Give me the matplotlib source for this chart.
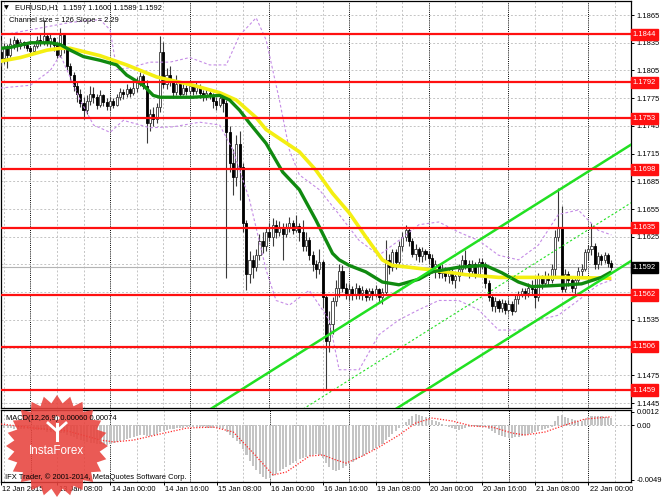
import numpy as np
import matplotlib.pyplot as plt
from matplotlib.patches import Polygon, Circle

plt.rcParams['font.family'] = ['Liberation Sans', 'DejaVu Sans']

W, H = 664, 498

# ---- EURUSD H1 candles (bar 0 = 12 Jan 2015 15:00) ----
first_open = 1.1825
close = [1.1818, 1.1830, 1.1822, 1.1834, 1.1838, 1.1831, 1.1836, 1.1833, 1.1829, 1.1826,
         1.1831, 1.1838, 1.1835, 1.1842, 1.1836, 1.1840, 1.1833, 1.1822, 1.1843, 1.1828,
         1.1810, 1.1800, 1.1788, 1.1780, 1.1770, 1.1762, 1.1772, 1.1780, 1.1776, 1.1768,
         1.1778, 1.1771, 1.1766, 1.1772, 1.1768, 1.1776, 1.1782, 1.1779, 1.1785, 1.1781,
         1.1786, 1.1793, 1.1799, 1.1788, 1.1748, 1.1758, 1.1752, 1.1765, 1.1825, 1.1790,
         1.1800, 1.1792, 1.1782, 1.1790, 1.1780, 1.1786, 1.1783, 1.1788, 1.1783, 1.1787,
         1.1781, 1.1776, 1.1781, 1.1778, 1.1772, 1.1768, 1.1775, 1.1770, 1.1738, 1.1705,
         1.1690, 1.1725, 1.1700, 1.1640, 1.1585, 1.1600, 1.1592, 1.1605, 1.1620, 1.1615,
         1.1630, 1.1625, 1.1638, 1.1630, 1.1636, 1.1628, 1.1634, 1.1640, 1.1632, 1.1637,
         1.1630, 1.1615, 1.1622, 1.1605, 1.1595, 1.1590, 1.1598, 1.1560, 1.1512, 1.1530,
         1.1555, 1.1570, 1.1588, 1.1570, 1.1563, 1.1568, 1.1562, 1.1570, 1.1564, 1.1567,
         1.1560, 1.1566, 1.1563, 1.1568, 1.1560, 1.1565, 1.1600, 1.1592, 1.1608, 1.1598,
         1.1615, 1.1625, 1.1632, 1.1620, 1.1606, 1.1612, 1.1604, 1.1610, 1.1606, 1.1602,
         1.1592, 1.1595, 1.1586, 1.1590, 1.1582, 1.1586, 1.1578, 1.1582, 1.1590, 1.1600,
         1.1596, 1.1588, 1.1595, 1.1585, 1.1598, 1.1595, 1.1575, 1.1560, 1.1550, 1.1555,
         1.1548, 1.1553, 1.1546, 1.1552, 1.1545, 1.1558, 1.1562, 1.1566, 1.1564, 1.1570,
         1.1568, 1.1560, 1.1580, 1.1575, 1.1582, 1.1578, 1.1590, 1.1625, 1.1635, 1.1568,
         1.1585, 1.1578, 1.1570, 1.1578, 1.1588, 1.1590, 1.1608, 1.1612, 1.1615, 1.1595,
         1.1604, 1.1600, 1.1605, 1.1597, 1.1592]
high = [1.1838, 1.1835, 1.1834, 1.1840, 1.1842, 1.1840, 1.1839, 1.1837, 1.1836, 1.1832,
        1.1834, 1.1842, 1.1845, 1.1860, 1.1845, 1.1844, 1.1841, 1.1836, 1.1851, 1.1846,
        1.1830, 1.1813, 1.1803, 1.1792, 1.1785, 1.1776, 1.1778, 1.1788, 1.1787, 1.1780,
        1.1784, 1.1780, 1.1775, 1.1776, 1.1775, 1.1780, 1.1786, 1.1785, 1.1790, 1.1787,
        1.1792, 1.1798, 1.1803, 1.1801, 1.1795, 1.1763, 1.1765, 1.1770, 1.1842, 1.1836,
        1.1808, 1.1810, 1.1795, 1.1800, 1.1793, 1.1791, 1.1789, 1.1793, 1.1790, 1.1792,
        1.1790, 1.1784, 1.1785, 1.1785, 1.1781, 1.1776, 1.1779, 1.1778, 1.1773, 1.1745,
        1.1720, 1.1735, 1.1740, 1.1705, 1.1643, 1.1610, 1.1605, 1.1612, 1.1628, 1.1630,
        1.1636, 1.1640, 1.1645, 1.1643, 1.1642, 1.1640, 1.1640, 1.1646, 1.1643, 1.1649,
        1.1640, 1.1643, 1.1630, 1.1625, 1.1610, 1.1600, 1.1612, 1.1600, 1.1562, 1.1545,
        1.1560, 1.1578, 1.1595, 1.1594, 1.1575, 1.1574, 1.1572, 1.1575, 1.1573, 1.1572,
        1.1570, 1.1570, 1.1569, 1.1573, 1.1570, 1.1570, 1.1622, 1.1606, 1.1612, 1.1612,
        1.1620, 1.1630, 1.1638, 1.1636, 1.1624, 1.1617, 1.1614, 1.1614, 1.1612, 1.1610,
        1.1606, 1.1600, 1.1596, 1.1595, 1.1592, 1.1590, 1.1590, 1.1585, 1.1596, 1.1605,
        1.1611, 1.1600, 1.1600, 1.1598, 1.1602, 1.1602, 1.1598, 1.1578, 1.1562, 1.1560,
        1.1558, 1.1558, 1.1556, 1.1556, 1.1555, 1.1562, 1.1566, 1.1570, 1.1569, 1.1575,
        1.1578, 1.1580, 1.1586, 1.1584, 1.1588, 1.1586, 1.1596, 1.1632, 1.1678, 1.1658,
        1.1590, 1.1588, 1.1582, 1.1583, 1.1592, 1.1595, 1.1612, 1.1616, 1.1640, 1.1618,
        1.1608, 1.1606, 1.1609, 1.1607, 1.1600]
low = [1.1810, 1.1812, 1.1808, 1.1820, 1.1828, 1.1826, 1.1828, 1.1829, 1.1826, 1.1822,
       1.1824, 1.1829, 1.1831, 1.1833, 1.1832, 1.1830, 1.1826, 1.1818, 1.1820, 1.1824,
       1.1806, 1.1795, 1.1783, 1.1771, 1.1765, 1.1752, 1.1758, 1.1768, 1.1770, 1.1763,
       1.1765, 1.1766, 1.1762, 1.1762, 1.1764, 1.1766, 1.1773, 1.1774, 1.1776, 1.1776,
       1.1778, 1.1782, 1.1788, 1.1785, 1.1727, 1.1740, 1.1745, 1.1748, 1.1760, 1.1786,
       1.1785, 1.1788, 1.1775, 1.1778, 1.1776, 1.1778, 1.1778, 1.1780, 1.1778, 1.1780,
       1.1775, 1.1772, 1.1773, 1.1774, 1.1764, 1.1762, 1.1765, 1.1760, 1.1580, 1.1695,
       1.1670, 1.1680, 1.1665, 1.1630, 1.1567, 1.1575, 1.1580, 1.1588, 1.1600, 1.1607,
       1.1610, 1.1620, 1.1615, 1.1624, 1.1626, 1.1600, 1.1625, 1.1630, 1.1628, 1.1630,
       1.1620, 1.1610, 1.1610, 1.1600, 1.1588, 1.1580, 1.1585, 1.1548, 1.1459, 1.1500,
       1.1520, 1.1550, 1.1560, 1.1565, 1.1558, 1.1556, 1.1556, 1.1558, 1.1558, 1.1557,
       1.1555, 1.1556, 1.1557, 1.1560, 1.1554, 1.1552, 1.1563, 1.1585, 1.1588, 1.1590,
       1.1595, 1.1610, 1.1620, 1.1615, 1.1603, 1.1600, 1.1598, 1.1598, 1.1600, 1.1595,
       1.1586, 1.1580, 1.1580, 1.1580, 1.1577, 1.1575, 1.1574, 1.1570, 1.1577, 1.1585,
       1.1590, 1.1580, 1.1583, 1.1580, 1.1584, 1.1590, 1.1570, 1.1555, 1.1545, 1.1544,
       1.1543, 1.1544, 1.1541, 1.1544, 1.1540, 1.1544, 1.1552, 1.1560, 1.1558, 1.1560,
       1.1562, 1.1548, 1.1555, 1.1568, 1.1572, 1.1572, 1.1575, 1.1580, 1.1620, 1.1565,
       1.1565, 1.1572, 1.1565, 1.1562, 1.1575, 1.1583, 1.1588, 1.1600, 1.1605, 1.1590,
       1.1590, 1.1594, 1.1597, 1.1592, 1.1589]

# ---- moving averages (bar, price) ----
ma_slow_bars = [0, 6, 14, 18, 21, 30, 38, 47, 58, 66, 71, 77, 80, 90, 95, 100, 105, 110,
                115, 118, 123, 130, 140, 150, 170, 184]
ma_slow = [1.1815, 1.1819, 1.1827, 1.1829, 1.1829, 1.1821, 1.1811, 1.1798, 1.1789, 1.1781,
           1.1773, 1.1754, 1.1741, 1.1717, 1.1697, 1.1672, 1.1651, 1.1625, 1.1600, 1.1594,
           1.1592, 1.1589, 1.1584, 1.1581, 1.1581, 1.1580]
ma_fast_bars = [0, 3, 9, 15, 18, 21, 25, 30, 35, 38, 43, 46, 48, 58, 66, 69, 72, 75, 80,
                85, 90, 95, 100, 102, 105, 110, 115, 120, 126, 130, 138, 146, 151, 156,
                160, 166, 171, 175, 181, 184]
ma_fast = [1.1829, 1.1830, 1.1835, 1.1835, 1.1833, 1.1827, 1.1820, 1.1816, 1.1811, 1.1800,
           1.1789, 1.1778, 1.1776, 1.1776, 1.1778, 1.1773, 1.1762, 1.1748, 1.1726, 1.1695,
           1.1676, 1.1643, 1.1607, 1.1600, 1.1594, 1.1587, 1.1576, 1.1573, 1.1579, 1.1587,
           1.1592, 1.1594, 1.1586, 1.1576, 1.1571, 1.1572, 1.1573, 1.1574, 1.1581, 1.1587]

# ---- bollinger-style envelope (dashed violet) ----
band_up_bars = [0, 12, 21, 30, 33, 35, 39, 45, 51, 57, 63, 68, 72, 77, 80, 84, 87, 90, 96,
                102, 108, 114, 120, 126, 132, 138, 144, 150, 156, 162, 168, 174, 180, 184]
band_up = [1.1843, 1.1851, 1.1857, 1.1860, 1.1849, 1.1806, 1.1808, 1.1814, 1.1814, 1.1819,
           1.1811, 1.1811, 1.1843, 1.1862, 1.1838, 1.1773, 1.1719, 1.1692, 1.1676, 1.1649,
           1.1621, 1.1605, 1.1621, 1.1638, 1.1641, 1.1630, 1.1621, 1.1605, 1.1600, 1.1616,
           1.1649, 1.1654, 1.1632, 1.1627]
band_lo_bars = [0, 9, 15, 18, 24, 28, 33, 37, 45, 52, 60, 66, 70, 75, 80, 83, 87, 93, 99,
                102, 108, 114, 120, 126, 132, 138, 144, 150, 156, 162, 168, 174, 180, 184]
band_lo = [1.1786, 1.1789, 1.1805, 1.1822, 1.1773, 1.1746, 1.1738, 1.1751, 1.1743, 1.1744,
           1.1749, 1.1746, 1.1719, 1.1665, 1.1589, 1.1556, 1.1551, 1.1567, 1.1535, 1.1481,
           1.1481, 1.1519, 1.1535, 1.1546, 1.1556, 1.1556, 1.1546, 1.1524, 1.1524, 1.1535,
           1.1540, 1.1556, 1.1573, 1.1578]

# ---- regression channel ----
channel_size = 0.0126
channel_slope = 0.000226
channel_ref_bar = 189.6
channel_ref_low = 1.1598

# ---- support / resistance levels ----
levels = [1.1844, 1.1792, 1.1753, 1.1698, 1.1635, 1.1562, 1.1506, 1.1459]
last_price = 1.1592
price_ticks = [1.1445, 1.1475, 1.1505, 1.1535, 1.1565, 1.1595, 1.1625, 1.1655, 1.1685,
               1.1715, 1.1745, 1.1775, 1.1805, 1.1835, 1.1865]
hidden_ticks = [1.1505, 1.1565, 1.1595]  # covered by level / price boxes

# ---- MACD(12,26,9) ----
macd_hist = [-0.00027, -0.00027, -0.00027, -0.00027, -0.00036, -0.00036, -0.00036, -0.00036,
             -0.00036, -0.00045, -0.00045, -0.00045, -0.00045, -0.00045, -0.00062, -0.00062,
             -0.00062, -0.00071, -0.00071, -0.00071, -0.00089, -0.00098, -0.00107, -0.00125,
             -0.00134, -0.00143, -0.00151, -0.00160, -0.00160, -0.00169, -0.00169, -0.00178,
             -0.00178, -0.00169, -0.00160, -0.00151, -0.00143, -0.00134, -0.00125, -0.00116,
             -0.00107, -0.00098, -0.00089, -0.00089, -0.00098, -0.00098, -0.00089, -0.00080,
             -0.00062, -0.00053, -0.00045, -0.00036, -0.00036, -0.00027, -0.00027, -0.00027,
             -0.00018, -0.00018, -0.00018, -0.00018, -0.00018, -0.00018, -0.00027, -0.00027,
             -0.00027, -0.00027, -0.00027, -0.00036, -0.00062, -0.00089, -0.00116, -0.00143,
             -0.00169, -0.00214, -0.00267, -0.00321, -0.00365, -0.00401, -0.00437, -0.00463,
             -0.00481, -0.00472, -0.00454, -0.00437, -0.00410, -0.00392, -0.00374, -0.00356,
             -0.00339, -0.00321, -0.00303, -0.00294, -0.00285, -0.00276, -0.00267, -0.00258,
             -0.00267, -0.00294, -0.00339, -0.00374, -0.00401, -0.00410, -0.00401, -0.00383,
             -0.00365, -0.00347, -0.00330, -0.00312, -0.00294, -0.00276, -0.00258, -0.00241,
             -0.00223, -0.00205, -0.00187, -0.00169, -0.00134, -0.00107, -0.00080, -0.00053,
             -0.00027, 0.00000, 0.00027, 0.00053, 0.00080, 0.00098, 0.00089, 0.00080,
             0.00071, 0.00062, 0.00045, 0.00036, 0.00027, 0.00009, -0.00009, -0.00018,
             -0.00027, -0.00036, -0.00045, -0.00036, -0.00027, -0.00018, -0.00009, -0.00009,
             -0.00018, -0.00009, -0.00018, -0.00036, -0.00053, -0.00071, -0.00089, -0.00098,
             -0.00107, -0.00116, -0.00116, -0.00107, -0.00107, -0.00098, -0.00089, -0.00080,
             -0.00071, -0.00062, -0.00053, -0.00045, -0.00036, -0.00027, -0.00018, 0.00036,
             0.00080, 0.00089, 0.00071, 0.00062, 0.00053, 0.00045, 0.00036, 0.00036,
             0.00053, 0.00071, 0.00080, 0.00080, 0.00080, 0.00080, 0.00071, 0.00071,
             0.00060]
signal_bars = [0, 10, 20, 30, 34, 40, 48, 56, 64, 70, 76, 82, 86, 93, 97, 101, 104, 109,
               114, 120, 125, 130, 136, 142, 148, 154, 158, 164, 170, 176, 184]
signal = [0.00009, -0.00027, -0.00053, -0.00134, -0.00151, -0.00134, -0.00080, -0.00027,
          -0.00018, -0.00062, -0.00249, -0.00446, -0.00419, -0.00276, -0.00267, -0.00312,
          -0.00339, -0.00276, -0.00196, -0.00089, 0.00018, 0.00062, 0.00036, -0.00009,
          -0.00018, -0.00071, -0.00089, -0.00062, 0.00000, 0.00053, 0.00074]

# ---- time axis ----
date_bars = [0, 17, 33, 49, 65, 81, 97, 113, 129, 145, 161, 177]
date_labels = ['12 Jan 2015', '13 Jan 08:00', '14 Jan 00:00', '14 Jan 16:00', '15 Jan 08:00',
               '16 Jan 00:00', '16 Jan 16:00', '19 Jan 08:00', '20 Jan 00:00', '20 Jan 16:00',
               '21 Jan 08:00', '22 Jan 00:00']
day_start_bars = [9, 33, 57, 81, 105, 129, 153, 177]

FS = 5.4
XLIM = (0.15, 189.9)

fig = plt.figure(figsize=(W / 100, H / 100), dpi=100)
ax = fig.add_axes([1 / W, (H - 408) / H, 630 / W, 407 / H])
ax2 = fig.add_axes([1 / W, (H - 482) / H, 630 / W, 72 / H])

ax.set_xlim(*XLIM)
ax.set_ylim(1.14396, 1.18802)
ax2.set_xlim(*XLIM)
ax2.set_ylim(-0.00508, 0.00134)

# grid and period separators
for a in (ax, ax2):
    for b in range(1, 190, 8):
        if b in day_start_bars:
            a.axvline(b, color='black', lw=0.7, ls=(0, (1, 1.2)), zorder=1)
        else:
            a.axvline(b, color='#c4c4c4', lw=0.7, ls=(0, (2, 2)), zorder=1)
    for s in a.spines.values():
        s.set_color('black')
        s.set_linewidth(0.9)
for p in price_ticks:
    ax.axhline(p, color='#c4c4c4', lw=0.7, ls=(0, (2, 2)), zorder=1)

# candles
opens = np.array([first_open] + close[:-1])
c = np.array(close)
x = np.arange(len(c))
up = c >= opens
body = np.where(np.abs(c - opens) < 0.00004, 0.00004, c - opens)
ax.vlines(x, low, high, color='#3a3a3a', lw=0.8, zorder=3)
ax.bar(x[up], body[up], bottom=opens[up], width=0.62, color='white',
       edgecolor='#3a3a3a', linewidth=0.6, zorder=3.5)
ax.bar(x[~up], body[~up], bottom=opens[~up], width=0.62, color='black',
       edgecolor='black', linewidth=0.6, zorder=3.5)

# indicators
ax.plot(band_up_bars, band_up, color='#c58ce6', lw=0.8, ls=(0, (2.5, 2)), zorder=4)
ax.plot(band_lo_bars, band_lo, color='#c58ce6', lw=0.8, ls=(0, (2.5, 2)), zorder=4)
ax.plot(ma_slow_bars, ma_slow, color='#f4ef12', lw=2.6, zorder=4.2, solid_capstyle='butt')
ax.plot(ma_fast_bars, ma_fast, color='#108a10', lw=2.4, zorder=4.3, solid_capstyle='butt')

cb = np.array([40.0, 192.0])
ch_low = channel_ref_low + channel_slope * (cb - channel_ref_bar)
ax.plot(cb, ch_low, color='#22e022', lw=1.8, zorder=5)
ax.plot(cb, ch_low + channel_size, color='#22e022', lw=1.8, zorder=5)
ax.plot(cb, ch_low + channel_size / 2, color='#22e022', lw=0.8, ls=(0, (2, 2)), zorder=5)

ax.axhline(last_price, color='#b4b4b4', lw=0.8, zorder=2)
for lv in levels:
    ax.axhline(lv, color='#ff1010', lw=1.6, zorder=6)

# right price scale
ax.yaxis.tick_right()
ax.set_yticks(price_ticks)
ax.set_yticklabels(['' if p in hidden_ticks else f'{p:.4f}' for p in price_ticks])
ax.tick_params(axis='y', labelsize=FS, length=2.5, width=0.7, pad=1.5, colors='black')
ax.set_xticks([])
for lv in levels:
    ax.text(1.003, lv, f'{lv:.4f}', transform=ax.get_yaxis_transform(), fontsize=FS,
            color='white', va='center', ha='left', zorder=10, clip_on=False,
            bbox=dict(boxstyle='square,pad=0.28', fc='#ff1010', ec='#ff1010'))
ax.text(1.003, last_price, f'{last_price:.4f}', transform=ax.get_yaxis_transform(),
        fontsize=FS, color='white', va='center', ha='left', zorder=10, clip_on=False,
        bbox=dict(boxstyle='square,pad=0.28', fc='black', ec='black'))

# MACD panel
ax2.bar(x, macd_hist, width=0.62, color='#c4c4c4', zorder=2)
ax2.plot(signal_bars, signal, color='#ff2a2a', lw=0.9, ls=(0, (1, 1.3)), zorder=3)
ax2.axhline(0, color='#b4b4b4', lw=0.7, ls=(0, (2, 2)), zorder=1)
ax2.yaxis.tick_right()
ax2.set_yticks([0.0012, 0.0, -0.0049])
ax2.set_yticklabels(['0.0012', '0.00', '-0.0049'])
ax2.tick_params(axis='y', labelsize=FS, length=2.5, width=0.7, pad=1.5)
ax2.set_xticks(date_bars)
ax2.set_xticklabels([])
ax2.tick_params(axis='x', length=2.5, width=0.7, direction='out')
for b, lab in zip(date_bars, date_labels):
    ax2.text(b + 0.4, -0.11, lab, transform=ax2.get_xaxis_transform(), fontsize=FS,
             ha='left', va='center', clip_on=False)

# InstaForex watermark
n = 24
ang = np.linspace(0, 2 * np.pi, 2 * n, endpoint=False) + np.pi / 2
rad = np.where(np.arange(2 * n) % 2 == 0, 51, 43)
cx, cy = 57, 446
star = Polygon(np.column_stack([(cx + rad * np.cos(ang)) / W, 1 - (cy + rad * np.sin(ang)) / H]),
               closed=True, transform=fig.transFigure, fc='#e8433d', ec='none', alpha=0.88,
               zorder=5)
fig.patches.append(star)
fig.patches.append(Circle((cx / W, 1 - 418 / H), 2.6 / W, transform=fig.transFigure,
                          fc='white', ec='none', zorder=6))
fig.lines.append(plt.Line2D([cx / W, cx / W], [1 - 424 / H, 1 - 440 / H],
                            transform=fig.transFigure, color='white', lw=2.2, zorder=6))
fig.lines.append(plt.Line2D([(cx - 9) / W, cx / W, (cx + 9) / W],
                            [1 - 423 / H, 1 - 431 / H, 1 - 423 / H],
                            transform=fig.transFigure, color='white', lw=2.0, zorder=6))
fig.text(cx / W, 1 - 451 / H, 'InstaForex', color='white', fontsize=8.4,
         ha='center', va='center', zorder=7)

# header texts
fig.text(4 / W, 1 - 8 / H, '▼', fontsize=4.5, va='center', ha='left',
         family=['DejaVu Sans'], zorder=8)
fig.text(15 / W, 1 - 8 / H, 'EURUSD,H1  1.1597 1.1600 1.1589 1.1592', fontsize=FS,
         va='center', ha='left', zorder=8)
fig.text(9 / W, 1 - 20 / H, 'Channel size = 126 Slope = 2.29', fontsize=FS,
         va='center', ha='left', zorder=8)
fig.text(6 / W, 1 - 418 / H, 'MACD(12,26,9) 0.00060 0.00074', fontsize=FS,
         va='center', ha='left', zorder=8)
fig.text(5 / W, 1 - 477 / H, 'IFX Trader, © 2001-2014, MetaQuotes Software Corp.',
         fontsize=FS, va='center', ha='left', zorder=8)

fig.savefig('out.png', dpi=100)
